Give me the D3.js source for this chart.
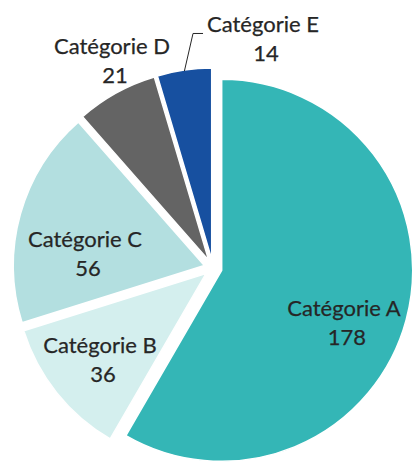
<!DOCTYPE html>
<html>
<head>
<meta charset="utf-8">
<script src="https://cdn.jsdelivr.net/npm/d3@7"></script>
<style>
  html, body { margin: 0; padding: 0; background: #ffffff; }
  svg { display: block; }
</style>
</head>
<body>
<svg id="chart" width="416" height="464"></svg>
<script>
// ---- data ----
const categories = ["Catégorie A", "Catégorie B", "Catégorie C", "Catégorie D", "Catégorie E"];
const values = [178, 36, 56, 21, 14];
const colors = ["#34B6B6", "#D4EFEE", "#B3DFE0", "#646464", "#1750A0"];

// ---- layout ----
const cx = 213, cy = 268;
const radius = 191;
const explode = 9;
const insideDist = 146.5;
const outsideDist = 220;
const outsideLabel = [false, false, false, true, true];
// label nudges relative to the computed anchor (dx, dy)
const labelNudge = [[-10.5, 17], [1.4, 0.4], [13, 25], [5.3, -14], [81.6, -10.8]];

const svg = d3.select("#chart");
const g = svg.append("g").attr("transform", `translate(${cx},${cy})`);

const pie = d3.pie().sort(null).value(d => d.value);
const data = categories.map((c, i) => ({ cat: c, value: values[i], color: colors[i], i }));
const arcs = pie(data);
const arc = d3.arc().innerRadius(0).outerRadius(radius);

function polar(angle, r) {
  return [Math.sin(angle) * r, -Math.cos(angle) * r];
}

arcs.forEach(a => {
  a.mid = (a.startAngle + a.endAngle) / 2;
  [a.ox, a.oy] = polar(a.mid, explode);
  const i = a.data.i;
  const [px, py] = polar(a.mid, outsideLabel[i] ? outsideDist : insideDist);
  a.lx = px + labelNudge[i][0];
  a.ly = py + labelNudge[i][1];
});

g.selectAll("path.slice")
  .data(arcs)
  .join("path")
  .attr("class", "slice")
  .attr("transform", d => `translate(${d.ox},${d.oy})`)
  .attr("d", arc)
  .attr("fill", d => d.data.color)
  .attr("stroke", "#ffffff")
  .attr("stroke-width", 1.5)
  .attr("stroke-linejoin", "round");

// ---- labels ----
const font = "Lato, 'Open Sans', sans-serif";
const fontSize = 22;
const textColor = "#262626";

const labels = g.selectAll("g.label")
  .data(arcs)
  .join("g")
  .attr("class", "label")
  .attr("transform", d => `translate(${d.lx},${d.ly})`);

labels.append("text")
  .attr("class", "cat")
  .attr("text-anchor", "middle")
  .attr("y", -7)
  .attr("font-family", font)
  .attr("font-size", fontSize)
  .attr("fill", textColor)
  .attr("stroke", textColor)
  .attr("stroke-width", 0.25)
  .text(d => d.data.cat);

labels.append("text")
  .attr("class", "val")
  .attr("text-anchor", "middle")
  .attr("x", 3)
  .attr("y", 22)
  .attr("font-family", font)
  .attr("font-size", fontSize)
  .attr("fill", textColor)
  .attr("stroke", textColor)
  .attr("stroke-width", 0.25)
  .text(d => d.data.value);

// leader line for E
{
  const e = arcs[4];
  const textNode = labels.filter(d => d.data.i === 4).select("text.cat").node();
  const tw = textNode.getComputedTextLength();
  const leftX = e.lx - tw / 2 - 4;
  const lineY = e.ly - 6;
  const [sx, sy] = polar(e.mid, radius - 1);
  const pts = [[sx + e.ox, sy + e.oy], [leftX - 10, lineY], [leftX, lineY]];
  g.append("path")
    .attr("d", d3.line()(pts))
    .attr("fill", "none")
    .attr("stroke", "#262626")
    .attr("stroke-width", 1);
}
</script>
</body>
</html>
